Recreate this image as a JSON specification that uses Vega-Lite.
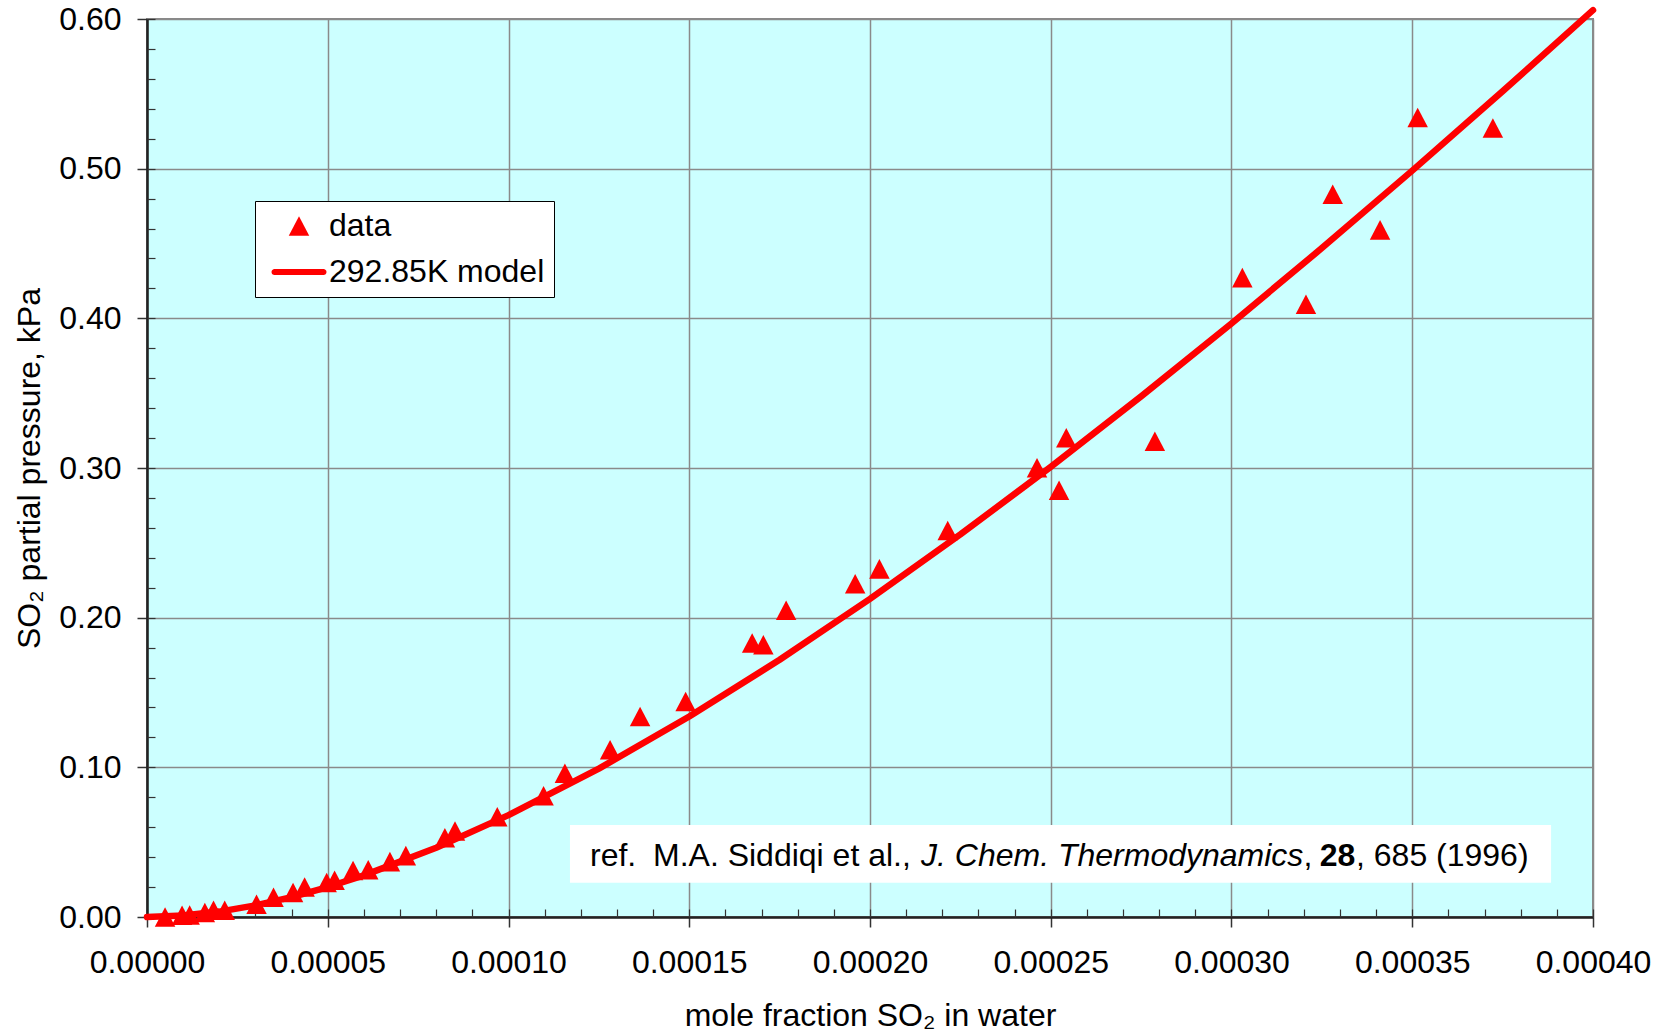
{
  "$schema": "https://vega.github.io/schema/vega-lite/v6.json",
  "width": 1446,
  "height": 898,
  "autosize": {"type": "none"},
  "padding": {"left": 147, "top": 19, "right": 75, "bottom": 114},
  "background": "white",
  "config": {
    "font": "Liberation Sans",
    "view": {"fill": "#CCFFFF", "stroke": "#888888", "strokeWidth": 2},
    "axis": {
      "labelFont": "Liberation Sans",
      "titleFont": "Liberation Sans",
      "labelColor": "black",
      "titleColor": "black",
      "titleFontWeight": "normal",
      "labelOverlap": false,
      "labelFlush": false,
      "labelBound": false
    }
  },
  "datasets": {
    "points": [
      {"x": 0.0000050, "p": 0.0000, "series": "data"},
      {"x": 0.0000097, "p": 0.0012, "series": "data"},
      {"x": 0.0000118, "p": 0.0013, "series": "data"},
      {"x": 0.0000160, "p": 0.0030, "series": "data"},
      {"x": 0.0000184, "p": 0.0045, "series": "data"},
      {"x": 0.0000215, "p": 0.0045, "series": "data"},
      {"x": 0.0000303, "p": 0.0085, "series": "data"},
      {"x": 0.0000350, "p": 0.0132, "series": "data"},
      {"x": 0.0000404, "p": 0.0163, "series": "data"},
      {"x": 0.0000436, "p": 0.0200, "series": "data"},
      {"x": 0.0000497, "p": 0.0230, "series": "data"},
      {"x": 0.0000519, "p": 0.0245, "series": "data"},
      {"x": 0.0000570, "p": 0.0310, "series": "data"},
      {"x": 0.0000612, "p": 0.0315, "series": "data"},
      {"x": 0.0000672, "p": 0.0370, "series": "data"},
      {"x": 0.0000716, "p": 0.0410, "series": "data"},
      {"x": 0.0000824, "p": 0.0530, "series": "data"},
      {"x": 0.0000852, "p": 0.0575, "series": "data"},
      {"x": 0.0000969, "p": 0.0670, "series": "data"},
      {"x": 0.0001097, "p": 0.0810, "series": "data"},
      {"x": 0.0001156, "p": 0.0960, "series": "data"},
      {"x": 0.0001281, "p": 0.1117, "series": "data"},
      {"x": 0.0001364, "p": 0.1340, "series": "data"},
      {"x": 0.0001490, "p": 0.1440, "series": "data"},
      {"x": 0.0001674, "p": 0.1831, "series": "data"},
      {"x": 0.0001705, "p": 0.1819, "series": "data"},
      {"x": 0.0001768, "p": 0.2049, "series": "data"},
      {"x": 0.0001959, "p": 0.2227, "series": "data"},
      {"x": 0.0002026, "p": 0.2326, "series": "data"},
      {"x": 0.0002215, "p": 0.2582, "series": "data"},
      {"x": 0.0002462, "p": 0.3001, "series": "data"},
      {"x": 0.0002523, "p": 0.2852, "series": "data"},
      {"x": 0.0002543, "p": 0.3202, "series": "data"},
      {"x": 0.0002788, "p": 0.3179, "series": "data"},
      {"x": 0.0003030, "p": 0.4272, "series": "data"},
      {"x": 0.0003206, "p": 0.4094, "series": "data"},
      {"x": 0.0003280, "p": 0.4829, "series": "data"},
      {"x": 0.0003411, "p": 0.4591, "series": "data"},
      {"x": 0.0003515, "p": 0.5342, "series": "data"},
      {"x": 0.0003723, "p": 0.5271, "series": "data"}
    ],
    "model": [
      {"x": 0.0, "p": 0.0},
      {"x": 0.00001, "p": 0.00094},
      {"x": 0.00002, "p": 0.00361},
      {"x": 0.00003, "p": 0.00779},
      {"x": 0.00004, "p": 0.01331},
      {"x": 0.00005, "p": 0.02003},
      {"x": 0.00006, "p": 0.02783},
      {"x": 0.00008, "p": 0.04629},
      {"x": 0.0001, "p": 0.06805},
      {"x": 0.000125, "p": 0.09915},
      {"x": 0.00015, "p": 0.13394},
      {"x": 0.000175, "p": 0.17188},
      {"x": 0.0002, "p": 0.21254},
      {"x": 0.000225, "p": 0.25559},
      {"x": 0.00025, "p": 0.30076},
      {"x": 0.000275, "p": 0.34782},
      {"x": 0.0003, "p": 0.3966},
      {"x": 0.000325, "p": 0.44693},
      {"x": 0.00035, "p": 0.49867},
      {"x": 0.000375, "p": 0.55171},
      {"x": 0.0004, "p": 0.60595}
    ]
  },
  "resolve": {"axis": {"x": "independent", "y": "independent"}},
  "layer": [
    {
      "data": {"name": "model"},
      "mark": {"type": "line", "color": "#FF0000", "strokeWidth": 6.5, "strokeCap": "round", "strokeJoin": "round", "clip": false},
      "encoding": {
        "x": {
          "field": "x", "type": "quantitative",
          "scale": {"domain": [0, 0.0004], "nice": false, "zero": false},
          "axis": {
            "orient": "bottom",
            "values": [0, 0.00005, 0.0001, 0.00015, 0.0002, 0.00025, 0.0003, 0.00035, 0.0004],
            "format": ".5f",
            "grid": true, "gridColor": "#8a8a8a", "gridWidth": 1.5, "gridOpacity": 1,
            "domain": true, "domainColor": "#222222", "domainWidth": 2.5,
            "ticks": true, "tickSize": 10, "tickColor": "#333333", "tickWidth": 1.5,
            "labelFontSize": 32, "labelBaseline": "alphabetic", "labelPadding": 45,
            "title": "mole fraction SO₂ in water",
            "titleFontSize": 32, "titleX": 723, "titleY": 108,
            "titleAlign": "center", "titleBaseline": "alphabetic", "titleAnchor": null
          }
        },
        "y": {
          "field": "p", "type": "quantitative",
          "scale": {"domain": [0, 0.6], "nice": false, "zero": false},
          "axis": {
            "orient": "left",
            "values": [0, 0.1, 0.2, 0.3, 0.4, 0.5, 0.6],
            "format": ".2f",
            "grid": true, "gridColor": "#8a8a8a", "gridWidth": 1.5, "gridOpacity": 1,
            "domain": true, "domainColor": "#222222", "domainWidth": 2.5,
            "ticks": true, "tickSize": 10, "tickColor": "#333333", "tickWidth": 1.5,
            "labelFontSize": 32, "labelPadding": 16,
            "title": "SO₂ partial pressure, kPa",
            "titleFontSize": 32, "titleAngle": -90, "titleX": -108, "titleY": 449,
            "titleAlign": "center", "titleBaseline": "alphabetic", "titleAnchor": null
          }
        }
      }
    },
    {
      "data": {"name": "points"},
      "mark": {"type": "point", "filled": true, "opacity": 1, "size": 441, "color": "#FF0000", "strokeWidth": 0, "clip": false},
      "encoding": {
        "x": {
          "field": "x", "type": "quantitative",
          "axis": {
            "orient": "bottom",
            "values": [0, 0.00001, 0.00002, 0.00003, 0.00004, 0.00005, 0.00006, 0.00007, 0.00008, 0.00009, 0.0001, 0.00011, 0.00012, 0.00013, 0.00014, 0.00015, 0.00016, 0.00017, 0.00018, 0.00019, 0.0002, 0.00021, 0.00022, 0.00023, 0.00024, 0.00025, 0.00026, 0.00027, 0.00028, 0.00029, 0.0003, 0.00031, 0.00032, 0.00033, 0.00034, 0.00035, 0.00036, 0.00037, 0.00038, 0.00039, 0.0004],
            "grid": false, "domain": false, "labels": false, "title": null,
            "ticks": true, "tickSize": -8, "tickColor": "#333333", "tickWidth": 1.2
          }
        },
        "y": {
          "field": "p", "type": "quantitative",
          "axis": {
            "orient": "left",
            "values": [0, 0.02, 0.04, 0.06, 0.08, 0.1, 0.12, 0.14, 0.16, 0.18, 0.2, 0.22, 0.24, 0.26, 0.28, 0.3, 0.32, 0.34, 0.36, 0.38, 0.4, 0.42, 0.44, 0.46, 0.48, 0.5, 0.52, 0.54, 0.56, 0.58, 0.6],
            "grid": false, "domain": false, "labels": false, "title": null,
            "ticks": true, "tickSize": -8, "tickColor": "#333333", "tickWidth": 1.2
          }
        },
        "shape": {
          "field": "series", "type": "nominal",
          "scale": {
            "domain": ["data", "292.85K model"],
            "range": ["M0,-0.93L0.975,0.93L-0.975,0.93Z", "M-2.33,-0.29L2.33,-0.29A0.29,0.29,0,0,1,2.33,0.29L-2.33,0.29A0.29,0.29,0,0,1,-2.33,-0.29Z"]
          },
          "legend": {
            "title": null,
            "orient": "none",
            "legendX": 108,
            "legendY": 182,
            "padding": 9,
            "fillColor": "white",
            "strokeColor": "black",
            "symbolSize": 441,
            "symbolFillColor": "#FF0000",
            "symbolStrokeWidth": 0,
            "symbolOpacity": 1,
            "symbolOffset": 19,
            "labelOffset": 14,
            "rowPadding": 14,
            "labelFont": "Liberation Sans",
            "labelFontSize": 32,
            "labelColor": "black",
            "labelLimit": 400
          }
        }
      }
    },
    {
      "data": {"values": [{}]},
      "mark": {"type": "rect", "fill": "white", "stroke": null},
      "encoding": {
        "x": {"datum": 0.000117, "type": "quantitative", "axis": null},
        "x2": {"datum": 0.0003884},
        "y": {"datum": 0.02294, "type": "quantitative", "axis": null},
        "y2": {"datum": 0.06154}
      }
    },
    {
      "data": {"values": [{}]},
      "mark": {"type": "text", "text": "ref.", "align": "left", "baseline": "alphabetic", "fontSize": 32, "font": "Liberation Sans", "color": "black"},
      "encoding": {
        "x": {"datum": 0.00012254, "type": "quantitative", "axis": null},
        "y": {"datum": 0.0341, "type": "quantitative", "axis": null}
      }
    },
    {
      "data": {"values": [{}]},
      "mark": {"type": "text", "text": "M.A. Siddiqi et al.,", "align": "left", "baseline": "alphabetic", "fontSize": 32, "font": "Liberation Sans", "color": "black"},
      "encoding": {
        "x": {"datum": 0.00013997, "type": "quantitative", "axis": null},
        "y": {"datum": 0.0341, "type": "quantitative", "axis": null}
      }
    },
    {
      "data": {"values": [{}]},
      "mark": {"type": "text", "text": "J. Chem. Thermodynamics", "align": "left", "baseline": "alphabetic", "fontSize": 32, "font": "Liberation Sans", "fontStyle": "italic", "color": "black"},
      "encoding": {
        "x": {"datum": 0.00021411, "type": "quantitative", "axis": null},
        "y": {"datum": 0.0341, "type": "quantitative", "axis": null}
      }
    },
    {
      "data": {"values": [{}]},
      "mark": {"type": "text", "text": ",", "align": "left", "baseline": "alphabetic", "fontSize": 32, "font": "Liberation Sans", "color": "black"},
      "encoding": {
        "x": {"datum": 0.00031992, "type": "quantitative", "axis": null},
        "y": {"datum": 0.0341, "type": "quantitative", "axis": null}
      }
    },
    {
      "data": {"values": [{}]},
      "mark": {"type": "text", "text": "28", "align": "left", "baseline": "alphabetic", "fontSize": 32, "font": "Liberation Sans", "fontWeight": "bold", "color": "black"},
      "encoding": {
        "x": {"datum": 0.00032442, "type": "quantitative", "axis": null},
        "y": {"datum": 0.0341, "type": "quantitative", "axis": null}
      }
    },
    {
      "data": {"values": [{}]},
      "mark": {"type": "text", "text": ", 685 (1996)", "align": "left", "baseline": "alphabetic", "fontSize": 32, "font": "Liberation Sans", "color": "black"},
      "encoding": {
        "x": {"datum": 0.00033444, "type": "quantitative", "axis": null},
        "y": {"datum": 0.0341, "type": "quantitative", "axis": null}
      }
    }
  ]
}
